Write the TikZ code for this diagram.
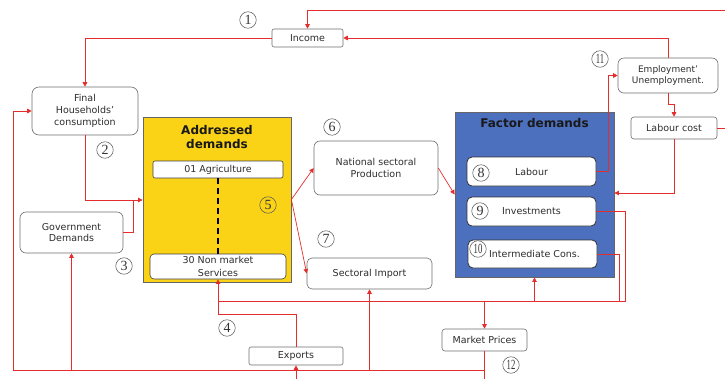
\documentclass[tikz,border=0pt]{standalone}
\usepackage{fontspec}
\setmainfont{DejaVu Sans}
\newfontfamily\numfont{Liberation Serif}
\usetikzlibrary{arrows.meta,calc}
\definecolor{linkred}{RGB}{228,45,45}
\definecolor{sectoryellow}{RGB}{250,210,22}
\definecolor{factorblue}{RGB}{76,111,190}
\definecolor{boxline}{RGB}{110,110,110}
\definecolor{txt}{RGB}{45,45,45}

\begin{document}
\begin{tikzpicture}[x=1pt,y=-1pt,
  sz/.style n args={2}{minimum width=#1pt, minimum height=#2pt},
  box/.style={draw=boxline, line width=0.6pt, rounded corners=3pt, fill=white,
    text=txt, font=\fontsize{9.5}{11}\selectfont, align=center, inner sep=0pt},
  subbox/.style={box, draw=black!80, line width=0.8pt, rounded corners=5pt},
  panel/.style={draw=black!60, line width=0.8pt, inner sep=0pt},
  paneltitle/.style={font=\bfseries\fontsize{12}{14}\selectfont, align=center, text=black!90},
  conn/.style={draw=linkred, line width=0.7pt},
  arr/.style={conn, -{Triangle[length=4.5pt,width=4.5pt]}},
  num/.style={circle, draw=black!65, line width=0.55pt, minimum size=16.5pt, inner sep=0pt,
    font=\numfont\fontsize{14}{14}\selectfont, text=black!80},
]
\useasboundingbox (0,0) rectangle (725,378);

% --- panels ---
\node[panel, fill=sectoryellow, sz={148}{165}] (yellow) at (217,199.5) {};
\node[paneltitle] (ytitle) at (217,137) {Addressed\\demands};
\node[panel, fill=factorblue, sz={159}{165}] (blue) at (534.5,194.5) {};
\node[paneltitle] (btitle) at (534.5,123) {Factor demands};

% --- boxes ---
\node[box, sz={71}{18}, rounded corners=2pt] (income) at (307.5,38) {Income};
\node[box, sz={106}{48}, rounded corners=7pt, font=\fontsize{9.5}{12}\selectfont] (hh) at (85,111) {Final\\Households'\\consumption};
\node[box, sz={103}{41}, rounded corners=6pt] (gov) at (71.5,232.5) {Government\\Demands};
\node[box, sz={130}{17}, draw=black!75, rounded corners=2pt] (agri) at (218,169.5) {01 Agriculture};
\node[box, sz={136}{25}, draw=black!75, rounded corners=4pt, font=\fontsize{9.5}{12.5}\selectfont] (nonmkt) at (218,266.5) {30 Non market\\Services};
\node[box, sz={124}{54}, rounded corners=6pt, font=\fontsize{9.5}{12}\selectfont] (nsp) at (376,168) {National sectoral\\Production};
\node[box, sz={125}{31}, rounded corners=5pt] (imp) at (369.5,273.5) {Sectoral Import};
\node[subbox, sz={129}{29}] (labour) at (531.5,171.5) {Labour};
\node[subbox, sz={129}{29}] (invest) at (531.5,211.5) {Investments};
\node[subbox, sz={129}{28}] (inter) at (532.5,254) {\hspace*{4pt}Intermediate Cons.};
\node[box, sz={100}{35}, rounded corners=6pt, font=\fontsize{9}{10.5}\selectfont] (empl) at (668,75.5) {Employment'\\Unemployment.};
\node[box, sz={86}{22}] (lcost) at (674,128) {Labour cost};
\node[box, sz={94}{18}, rounded corners=2pt] (exports) at (296,356) {Exports};
\node[box, sz={85}{22}] (mprices) at (484.5,340) {Market Prices};

% sector range between first and last sector
\draw[black, line width=2.2pt, dash pattern=on 6pt off 4pt] (agri.south) -- (nonmkt.north);

% --- connectors ---
\draw[arr] (lcost.east) -- (732,128) -- (732,10) -- (income.north |- 0,10) -- (income.north);
\draw[arr] (empl.north) -- (empl.north |- income.east) -- (income.east);
\draw[arr] (empl.south) -- ++(0,11) -- ++(6,0) -- (lcost.north);
\draw[arr] (labour.east) -- (608,171.5) -- (608,75.5) -- (empl.west);
\draw[arr] (lcost.south) -- (674,193) -- (blue.east |- 0,193);
\draw[arr] (income.west) -| (hh.north);
\draw[arr] (hh.south) -- (85,200) -- (yellow.west |- 0,200);
\draw[conn] (gov.east) -| (133,200);
\draw[arr] (yellow.east) -- (nsp.west);
\draw[arr] (yellow.east) -- (imp.west);
\draw[arr] (nsp.east) -- (blue.west);

% price bus below the panels
\coordinate (busA) at (218,301);
\draw[conn] (invest.east) -| (625,301) -- (busA);
\draw[conn] (inter.east) -| (619,301);
\draw[arr] (busA) -- (nonmkt.south);
\draw[arr] (534.5,301) -- (blue.south);
\draw[arr] (484.5,301) -- (mprices.north);
\draw[conn] (exports.north) |- (218,314) -- (busA);

% market price feedback along the bottom
\draw[conn] (mprices.south) -- (484.5,382);
\draw[arr] (484.5,370) -- (13,370) -- (13,111) -- (hh.west);
\draw[arr] (71.5,370) -- (gov.south);
\draw[arr] (296,382) -- (exports.south);
\draw[arr] (369.5,370) -- (imp.south);

% --- step numbers ---
\node[num] (n1) at (248,20) {1};
\node[num] (n2) at (105,150) {2};
\node[num] (n3) at (124,266) {3};
\node[num] (n4) at (227,328) {4};
\node[num] (n5) at (268,205) {5};
\node[num] (n6) at (332,127) {6};
\node[num] (n7) at (326,239) {7};
\node[num] (n8) at (481,173) {8};
\node[num] (n9) at (480,211) {9};
\node[num] (n10) at (478,249) {\scalebox{0.62}[1]{10}};
\node[num] (n11) at (600,59) {\scalebox{0.62}[1]{11}};
\node[num] (n12) at (511,365) {\scalebox{0.62}[1]{12}};
\end{tikzpicture}
\end{document}
